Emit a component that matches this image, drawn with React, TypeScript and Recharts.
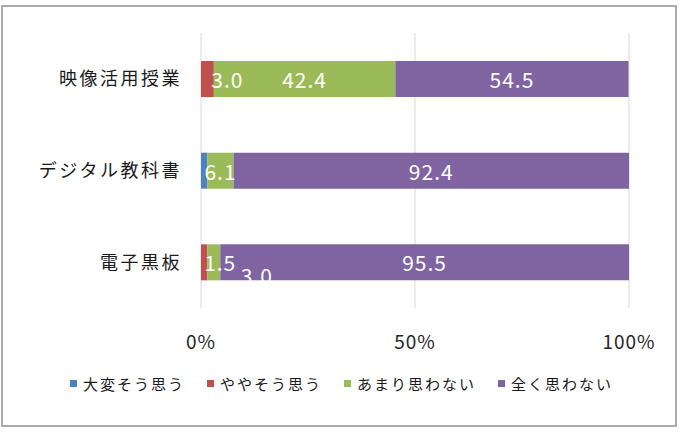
import React from 'react';
import { BarChart, Bar, XAxis, YAxis, CartesianGrid, Legend, LabelList } from 'recharts';

// Survey categories, top to bottom
const categories = ['映像活用授業', 'デジタル教科書', '電子黒板'];

// Answer series (percent)
const seriesNames = ['大変そう思う', 'ややそう思う', 'あまり思わない', '全く思わない'];
const veryMuch = [0, 1.5, 0];
const somewhat = [3.0, 0, 1.5];
const notMuch = [42.4, 6.1, 3.0];
const notAtAll = [54.5, 92.4, 95.5];

const xTicks = [0, 50, 100];

const COLORS = ['#4F81BD', '#C0504D', '#9BBB59', '#8064A2'];
const KEYS = ['s0', 's1', 's2', 's3'];
const FONT = "'Noto Sans CJK JP', 'Noto Sans', sans-serif";

const data = categories.map((name, i) => ({
    name,
    s0: veryMuch[i],
    s1: somewhat[i],
    s2: notMuch[i],
    s3: notAtAll[i],
}));

// small segments get their labels pushed aside so they stay readable
const labelNudge: Record<string, [number, number]> = {
    's1|映像活用授業': [20, 0],
    's1|電子黒板': [16, 0],
    's2|電子黒板': [43, 13],
};

// label value arrives as "category|number" so the nudge can be looked up per row
const makeLabel = (key: string) => (props: any) => {
    const { x, y, width, height, value } = props;
    const [name, num] = String(value).split('|');
    const v = Number(num);
    if (!v) return null;
    const [dx, dy] = labelNudge[`${key}|${name}`] || [0, 0];
    return (
        <text
            x={Number(x) + Number(width) / 2 + dx}
            y={Number(y) + Number(height) / 2 + dy}
            fill="#fff"
            fontSize={21}
            letterSpacing={1}
            textAnchor="middle"
            dominantBaseline="central"
        >
            {v.toFixed(1)}
        </text>
    );
};

const renderLegend = () => (
    <div style={{ display: 'flex', gap: 22, fontSize: 15, letterSpacing: 2, color: '#1a1a1a', fontFamily: FONT }}>
        {seriesNames.map((n, i) => (
            <div key={n} style={{ display: 'flex', alignItems: 'center' }}>
                <span style={{ width: 7, height: 7, background: COLORS[i], marginRight: 6, display: 'inline-block' }} />
                <span>{n}</span>
            </div>
        ))}
    </div>
);

const App: React.FC = () => {
    return (
        <div style={{ position: 'absolute', left: 0, top: 0, width: 681, height: 444, background: '#fff', fontFamily: FONT }}>
            <div
                style={{
                    position: 'absolute', left: 1, top: 5, width: 676, height: 422,
                    border: '2px solid #ababab', boxSizing: 'border-box',
                }}
            />
            <div style={{ position: 'absolute', left: 0, top: 0 }}>
                <BarChart
                    width={681}
                    height={444}
                    data={data}
                    layout="vertical"
                    margin={{ top: 33, right: 52, left: 0, bottom: 65 }}
                    barSize={36}
                >
                    <CartesianGrid horizontal={false} stroke="#d9d9d9" />
                    <XAxis
                        type="number"
                        domain={[0, 100]}
                        ticks={xTicks}
                        tickFormatter={(v: number) => `${v}%`}
                        axisLine={false}
                        tickLine={false}
                        tickSize={0}
                        tickMargin={28}
                        height={50}
                        tick={{ fontSize: 19, fill: '#262626', letterSpacing: 1 }}
                    />
                    <YAxis
                        type="category"
                        dataKey="name"
                        width={201}
                        axisLine={false}
                        tickLine={false}
                        tickSize={0}
                        tickMargin={19}
                        tick={{ fontSize: 18, fill: '#1a1a1a', letterSpacing: 2.5 }}
                    />
                    {KEYS.map((k, i) => (
                        <Bar key={k} dataKey={k} name={seriesNames[i]} stackId="a" fill={COLORS[i]} isAnimationActive={false}>
                            {i > 0 && (
                                <LabelList
                                    dataKey={(d: any) => `${d.name}|${d[k]}`}
                                    content={makeLabel(k)}
                                />
                            )}
                        </Bar>
                    ))}
                    <Legend verticalAlign="bottom" content={renderLegend} wrapperStyle={{ left: 70, top: 373, width: 600 }} />
                </BarChart>
            </div>
        </div>
    );
};

export default App;
